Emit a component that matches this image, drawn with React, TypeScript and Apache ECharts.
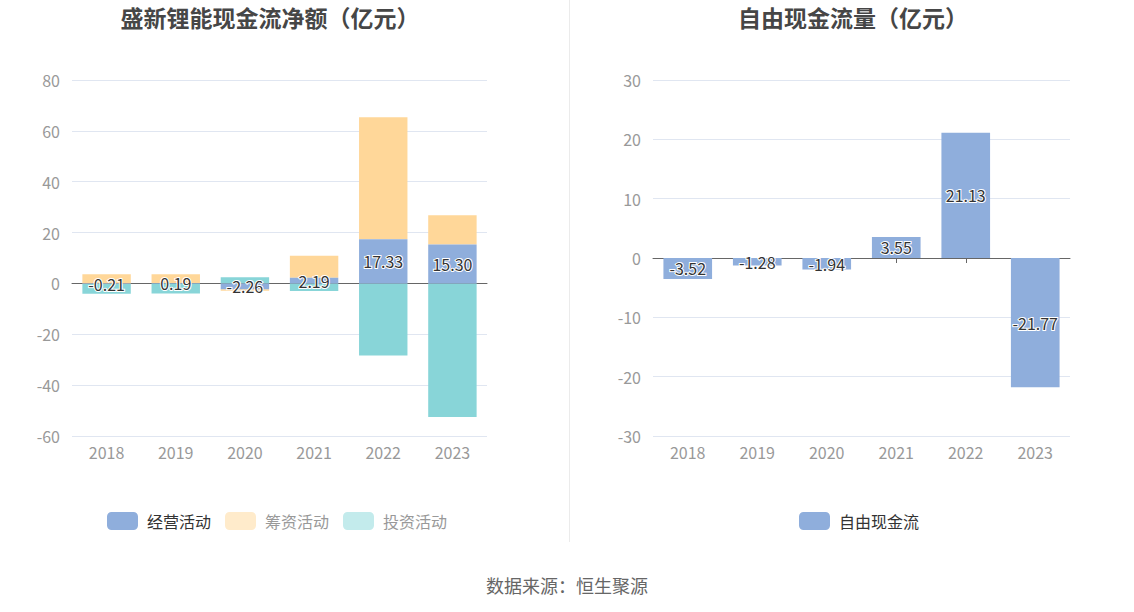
import React, { useEffect, useRef } from "react";
import * as echarts from "echarts";

const years = ["2018", "2019", "2020", "2021", "2022", "2023"];
const operating = [-0.21, 0.19, -2.26, 2.19, 17.33, 15.3];
const financing = [3.6, 3.4, -0.6, 8.7, 48.0, 11.5];
const investing = [-3.8, -4.0, 2.4, -3.0, -28.3, -52.5];
const freeCash = [-3.52, -1.28, -1.94, 3.55, 21.13, -21.77];

const FONT = "'Noto Sans CJK SC', 'Noto Sans', sans-serif";
const BLUE = "#8FAEDC";
const ORANGE = "#FFD799";
const CYAN = "#88D5D8";

export default function App() {
  const ref = useRef<HTMLDivElement>(null);
  useEffect(() => {
    if (!ref.current) return;
    const chart = echarts.init(ref.current, null, { renderer: "svg" });
    const label = {
      show: true,
      position: "inside",
      color: "#333",
      fontSize: 16,
      fontFamily: FONT,
      textBorderColor: "#fff",
      textBorderWidth: 2,
      formatter: (p: any) => Number(p.value).toFixed(2),
    };
    const catLabelAxis = (gi: number) => ({
      type: "category",
      gridIndex: gi,
      data: years,
      position: "bottom",
      axisLine: { show: false, onZero: false },
      axisTick: { show: false },
      axisLabel: { color: "#999", fontSize: 16, fontFamily: FONT, margin: 8 },
    });
    const zeroAxis = (gi: number) => ({
      type: "category",
      gridIndex: gi,
      data: years,
      position: "bottom",
      axisLine: { show: true, onZero: true, lineStyle: { color: "#666" } },
      axisTick: { show: true, alignWithLabel: true, length: 5, lineStyle: { color: "#666" } },
      axisLabel: { show: false },
    });
    const valAxis = (gi: number, min: number, max: number, interval: number) => ({
      type: "value",
      gridIndex: gi,
      min,
      max,
      interval,
      axisLine: { show: false },
      axisTick: { show: false },
      axisLabel: { color: "#999", fontSize: 16, fontFamily: FONT, margin: 12 },
      splitLine: { lineStyle: { color: "#E0E6F1" } },
    });
    const legendText = { fontSize: 16, fontFamily: FONT, padding: [0, 0, 0, 4] };
    chart.setOption({
      animation: false,
      textStyle: { fontFamily: FONT },
      grid: [
        { left: 72, top: 80, width: 415, height: 356 },
        { left: 653, top: 80, width: 417, height: 356 },
      ],
      xAxis: [catLabelAxis(0), zeroAxis(0), catLabelAxis(1), zeroAxis(1)],
      yAxis: [valAxis(0, -60, 80, 20), valAxis(1, -30, 30, 10)],
      legend: [
        {
          left: 107,
          top: 512,
          padding: 0,
          itemWidth: 31,
          itemHeight: 18,
          itemGap: 14,
          selectedMode: false,
          textStyle: { ...legendText, color: "#333" },
          data: [
            { name: "经营活动", itemStyle: { color: BLUE }, textStyle: { ...legendText, color: "#333" } },
            { name: "筹资活动", itemStyle: { color: "#FFEBCB" }, textStyle: { ...legendText, color: "#999" } },
            { name: "投资活动", itemStyle: { color: "#C3EBEC" }, textStyle: { ...legendText, color: "#999" } },
          ],
        },
        {
          left: 799,
          top: 512,
          padding: 0,
          itemWidth: 31,
          itemHeight: 18,
          selectedMode: false,
          textStyle: { ...legendText, color: "#333" },
          data: [{ name: "自由现金流", itemStyle: { color: BLUE } }],
        },
      ],
      series: [
        {
          name: "经营活动",
          type: "bar",
          stack: "cf",
          xAxisIndex: 1,
          yAxisIndex: 0,
          barWidth: "70%",
          data: operating,
          itemStyle: { color: BLUE },
          label,
          z: 3,
        },
        {
          name: "筹资活动",
          type: "bar",
          stack: "cf",
          xAxisIndex: 1,
          yAxisIndex: 0,
          barWidth: "70%",
          data: financing,
          itemStyle: { color: ORANGE },
        },
        {
          name: "投资活动",
          type: "bar",
          stack: "cf",
          xAxisIndex: 1,
          yAxisIndex: 0,
          barWidth: "70%",
          data: investing,
          itemStyle: { color: CYAN },
        },
        {
          name: "自由现金流",
          type: "bar",
          xAxisIndex: 3,
          yAxisIndex: 1,
          barWidth: "70%",
          data: freeCash,
          itemStyle: { color: BLUE },
          label,
        },
      ],
      graphic: [
        {
          type: "text",
          x: 270,
          y: 17,
          style: {
            text: "盛新锂能现金流净额（亿元）",
            fontSize: 23,
            fontWeight: "bold",
            fontFamily: FONT,
            fill: "#464646",
            textAlign: "center",
            textVerticalAlign: "middle",
          },
        },
        {
          type: "text",
          x: 853,
          y: 17,
          style: {
            text: "自由现金流量（亿元）",
            fontSize: 23,
            fontWeight: "bold",
            fontFamily: FONT,
            fill: "#464646",
            textAlign: "center",
            textVerticalAlign: "middle",
          },
        },
        {
          type: "line",
          shape: { x1: 569.5, y1: 0, x2: 569.5, y2: 542 },
          style: { stroke: "#EBEBEB", lineWidth: 1 },
        },
        {
          type: "text",
          x: 567,
          y: 585,
          style: {
            text: "数据来源：恒生聚源",
            fontSize: 18,
            fontFamily: FONT,
            fill: "#666",
            textAlign: "center",
            textVerticalAlign: "middle",
          },
        },
      ],
    });
    return () => chart.dispose();
  }, []);
  return (
    <div
      ref={ref}
      style={{ position: "absolute", left: 0, top: 0, width: 1134, height: 612, background: "#fff" }}
    />
  );
}
